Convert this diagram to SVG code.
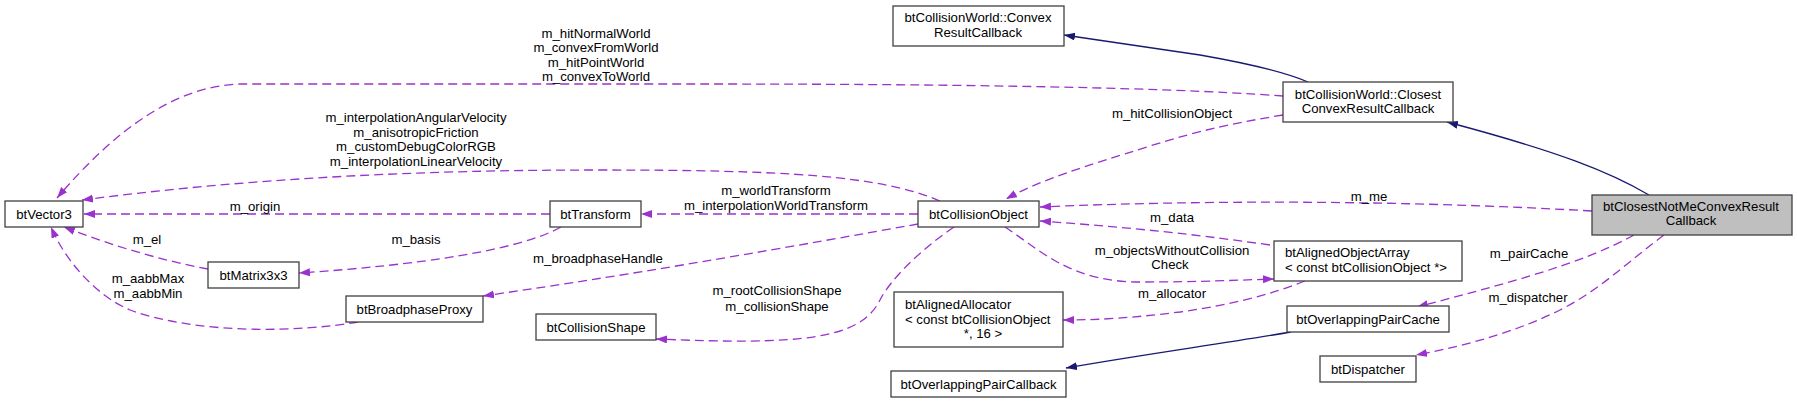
<svg xmlns="http://www.w3.org/2000/svg" width="1797" height="403" viewBox="0 0 1797 403">
<defs>
<style>
text{font-family:"Liberation Sans",Arial,sans-serif;font-size:13.2px;fill:#000}
.c{text-anchor:middle}
.box{fill:#fff;stroke:#404040;stroke-width:1.3}
.gray{fill:#bfbfbf;stroke:#404040;stroke-width:1.3}
.dep{fill:none;stroke:#9a32cd;stroke-width:1.3;stroke-dasharray:9,5}
.inh{fill:none;stroke:#191970;stroke-width:1.3}
</style>
<marker id="ap" markerUnits="userSpaceOnUse" markerWidth="12" markerHeight="10" refX="11" refY="4" orient="auto">
<path d="M0,0 L11,4 L0,8 z" fill="#9a32cd"/>
</marker>
<marker id="an" markerUnits="userSpaceOnUse" markerWidth="12" markerHeight="10" refX="11" refY="4" orient="auto">
<path d="M0,0 L11,4 L0,8 z" fill="#191970"/>
</marker>
</defs>
<rect width="1797" height="403" fill="#fff"/>
<g id="connectors">
<path class="inh" marker-end="url(#an)" d="M1308,82 C1280,70 1240,62 1200,55 L1064,35"/>
<path class="inh" marker-end="url(#an)" d="M1649,195 C1610,172 1560,152 1447,122"/>
<path class="inh" marker-end="url(#an)" d="M1291,332 C1220,344 1140,355 1066,368"/>
<path class="dep" marker-end="url(#ap)" d="M1283,96 C1150,86 900,84 700,84 L240,84 C175,86 115,130 57,198"/>
<path class="dep" marker-end="url(#ap)" d="M1283,115 C1240,122 1200,130 1150,146 C1080,168 1040,180 1006,199"/>
<path class="dep" marker-end="url(#ap)" d="M940,201 C880,175 780,170 600,170 C420,170 250,178 82,200"/>
<path class="dep" marker-end="url(#ap)" d="M550,214 L84,214"/>
<path class="dep" marker-end="url(#ap)" d="M918,214 L641,214"/>
<path class="dep" marker-end="url(#ap)" d="M208,269 C160,260 110,245 64,227"/>
<path class="dep" marker-end="url(#ap)" d="M561,227 C520,250 420,265 299,273"/>
<path class="dep" marker-end="url(#ap)" d="M918,224 C800,245 650,272 483,296"/>
<path class="dep" marker-end="url(#ap)" d="M954,227 C920,250 890,280 880,300 C860,340 800,345 656,339"/>
<path class="dep" marker-end="url(#ap)" d="M1592,211 C1400,200 1200,200 1040,207"/>
<path class="dep" marker-end="url(#ap)" d="M1270,245 C1180,232 1110,226 1040,221"/>
<path class="dep" marker-end="url(#ap)" d="M1005,227 C1040,250 1070,282 1140,282 C1200,282 1240,280 1274,279"/>
<path class="dep" marker-end="url(#ap)" d="M1305,281 C1270,295 1230,305 1180,312 C1130,318 1100,320 1063,320"/>
<path class="dep" marker-end="url(#ap)" d="M1634,235 C1580,265 1500,285 1417,307"/>
<path class="dep" marker-end="url(#ap)" d="M1664,235 C1630,260 1600,290 1560,310 C1520,330 1470,345 1416,355"/>
<path class="dep" marker-end="url(#ap)" d="M358,322 C300,332 200,335 130,310 C95,295 65,260 51,227"/>
<text class="c" x="596" y="38">m_hitNormalWorld</text>
<text class="c" x="596" y="52.4">m_convexFromWorld</text>
<text class="c" x="596" y="66.8">m_hitPointWorld</text>
<text class="c" x="596" y="81.2">m_convexToWorld</text>
<text class="c" x="416" y="122">m_interpolationAngularVelocity</text>
<text class="c" x="416" y="136.5">m_anisotropicFriction</text>
<text class="c" x="416" y="151">m_customDebugColorRGB</text>
<text class="c" x="416" y="165.5">m_interpolationLinearVelocity</text>
<text class="c" x="1172" y="118">m_hitCollisionObject</text>
<text class="c" x="1369" y="201">m_me</text>
<text class="c" x="776" y="195">m_worldTransform</text>
<text class="c" x="776" y="210">m_interpolationWorldTransform</text>
<text class="c" x="255" y="210.5">m_origin</text>
<text class="c" x="147" y="243.5">m_el</text>
<text class="c" x="416" y="243.5">m_basis</text>
<text class="c" x="598" y="263">m_broadphaseHandle</text>
<text class="c" x="148" y="283">m_aabbMax</text>
<text class="c" x="148" y="297.5">m_aabbMin</text>
<text class="c" x="777" y="295">m_rootCollisionShape</text>
<text class="c" x="777" y="310.5">m_collisionShape</text>
<text class="c" x="1172" y="222">m_data</text>
<text class="c" x="1172" y="254.5">m_objectsWithoutCollision</text>
<text class="c" x="1170" y="269">Check</text>
<text class="c" x="1172" y="298">m_allocator</text>
<text class="c" x="1529" y="258">m_pairCache</text>
<text class="c" x="1528" y="302">m_dispatcher</text>
</g>
<g id="btClosestNotMeConvexResultCallback">
<rect class="gray" x="1592" y="195" width="200" height="40"/>
<text class="c" x="1691" y="210.5">btClosestNotMeConvexResult</text>
<text class="c" x="1691" y="225">Callback</text>
</g>
<g id="btCollisionWorld_ClosestConvexResultCallback">
<rect class="box" x="1283" y="82" width="170" height="40"/>
<text class="c" x="1368" y="98.5">btCollisionWorld::Closest</text>
<text class="c" x="1368" y="113">ConvexResultCallback</text>
</g>
<g id="btCollisionWorld_ConvexResultCallback">
<rect class="box" x="893" y="6" width="171" height="40"/>
<text class="c" x="978" y="22">btCollisionWorld::Convex</text>
<text class="c" x="978" y="37">ResultCallback</text>
</g>
<g id="btVector3">
<rect class="box" x="5" y="201" width="78" height="26"/>
<text class="c" x="44" y="218.5">btVector3</text>
</g>
<g id="btTransform">
<rect class="box" x="550" y="201" width="91" height="26"/>
<text class="c" x="595.5" y="218.5">btTransform</text>
</g>
<g id="btCollisionObject">
<rect class="box" x="918" y="201" width="121" height="26"/>
<text class="c" x="978.5" y="218.5">btCollisionObject</text>
</g>
<g id="btMatrix3x3">
<rect class="box" x="208" y="262" width="91" height="26"/>
<text class="c" x="253.5" y="279.5">btMatrix3x3</text>
</g>
<g id="btBroadphaseProxy">
<rect class="box" x="346" y="296" width="137" height="26"/>
<text class="c" x="414.5" y="313.5">btBroadphaseProxy</text>
</g>
<g id="btCollisionShape">
<rect class="box" x="536" y="314" width="120" height="26"/>
<text class="c" x="596" y="331.5">btCollisionShape</text>
</g>
<g id="btAlignedObjectArray">
<rect class="box" x="1274" y="241" width="188" height="40"/>
<text x="1285" y="257">btAlignedObjectArray</text>
<text x="1285" y="271.5">&lt; const btCollisionObject *&gt;</text>
</g>
<g id="btAlignedAllocator">
<rect class="box" x="894" y="292" width="169" height="55"/>
<text x="905" y="308.5">btAlignedAllocator</text>
<text x="905" y="323.5">&lt; const btCollisionObject</text>
<text class="c" x="983" y="338">*, 16 &gt;</text>
</g>
<g id="btOverlappingPairCache">
<rect class="box" x="1287" y="306" width="162" height="26"/>
<text class="c" x="1368" y="323.5">btOverlappingPairCache</text>
</g>
<g id="btOverlappingPairCallback">
<rect class="box" x="891" y="371" width="175" height="26"/>
<text class="c" x="978.5" y="388.5">btOverlappingPairCallback</text>
</g>
<g id="btDispatcher">
<rect class="box" x="1320" y="356" width="96" height="26"/>
<text class="c" x="1368" y="373.5">btDispatcher</text>
</g>
</svg>
